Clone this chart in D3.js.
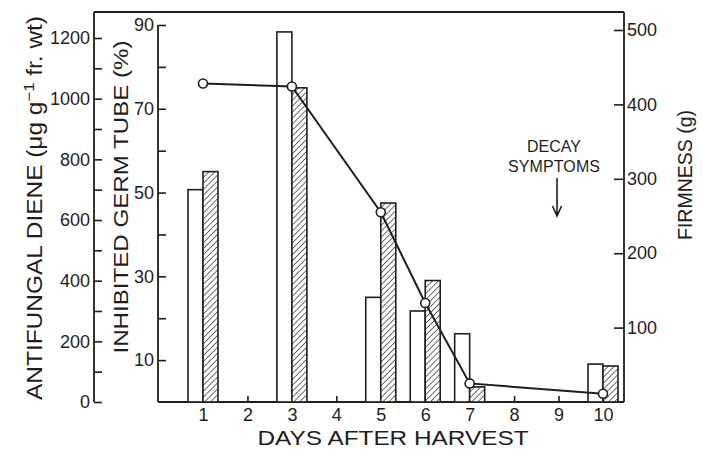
<!DOCTYPE html>
<html>
<head>
<meta charset="utf-8">
<script src="https://cdnjs.cloudflare.com/ajax/libs/d3/7.8.5/d3.min.js"></script>
<style>
    body { margin: 0; background: #fff; }
    svg text { font-family: "Liberation Sans", Arial, sans-serif; fill: #1e1e1e; }
    .axis path.domain { display: none; }
    .axis line { stroke: #1e1e1e; stroke-width: 1.6; }
    .axis text { font-size: 18px; }
</style>
</head>
<body>
<svg id="chart" width="702" height="450"></svg>
<script>
var d3 = d3 || {};

// days on the x axis, and the days that have measurements
var days = ["1", "2", "3", "4", "5", "6", "7", "8", "9", "10"];
var barDays = ["1", "3", "5", "6", "7", "10"];

// antifungal diene (ug/g fr. wt) - open bars
var dieneValues = [700, 1220, 345, 300, 225, 125];
// inhibited germ tube (%) - hatched bars
var germTubeValues = [55, 75, 47.5, 29, 3.6, 8.6];
// firmness (g) - line with circles
var firmnessValues = [428, 424, 255, 133, 25, 11];

var dieneTicks = [0, 100, 200, 300, 400, 500, 600, 700, 800, 900, 1000, 1100, 1200];
var germTicks = [10, 20, 30, 40, 50, 60, 70, 80, 90];
var firmnessTicks = [100, 200, 300, 400, 500];

(function(){
    "use strict";

    var ink = "#1e1e1e";
    var svg = d3.select("#chart");

    var outerX = 94, innerX = 158, rightX = 624;
    var topY = 12, baseY = 402;
    var barWidth = 15;

    var xScale = d3.scalePoint().domain(days).range([203, 603]);
    var dieneScale = d3.scaleLinear().domain([0, 1200]).range([baseY, 38]);
    var germScale = d3.scaleLinear().domain([0, 90]).range([baseY, 25]);
    var firmScale = d3.scaleLinear().domain([0, 500]).range([baseY, 30]);

    /*
        hatch pattern for the germ tube bars
    */
    function addPattern(){
        var pattern = svg.append("defs").append("pattern")
            .attr("id", "hatch")
            .attr("patternUnits", "userSpaceOnUse")
            .attr("width", 4.2)
            .attr("height", 4.2)
            .attr("patternTransform", "rotate(45)");
        pattern.append("rect").attr("width", 4.2).attr("height", 4.2).attr("fill", "#fff");
        pattern.append("line")
            .attr("x1", 0).attr("y1", 0).attr("x2", 0).attr("y2", 4.2)
            .attr("stroke", ink).attr("stroke-width", 1.3);
    }

    /*
        frame lines and the three y axes
    */
    function drawAxes(){
        var frame = [
            [outerX, topY, outerX, baseY],
            [outerX, topY, rightX, topY],
            [rightX, topY, rightX, baseY],
            [innerX, 25, innerX, baseY],
            [innerX, baseY, rightX, baseY]
        ];
        svg.selectAll("line.frame").data(frame).enter().append("line")
            .attr("class", "frame")
            .attr("x1", function(d){ return d[0]; })
            .attr("y1", function(d){ return d[1]; })
            .attr("x2", function(d){ return d[2]; })
            .attr("y2", function(d){ return d[3]; })
            .attr("stroke", ink).attr("stroke-width", 1.8);

        svg.append("g").attr("class", "axis")
            .attr("transform", "translate(" + outerX + ",0)")
            .call(d3.axisLeft(dieneScale)
                .tickValues(dieneTicks)
                .tickSizeInner(-8).tickSizeOuter(0).tickPadding(4)
                .tickFormat(function(d){ return d % 200 === 0 ? d : ""; }));

        svg.append("g").attr("class", "axis")
            .attr("transform", "translate(" + innerX + ",0)")
            .call(d3.axisLeft(germScale)
                .tickValues(germTicks)
                .tickSizeInner(-8).tickSizeOuter(0).tickPadding(4)
                .tickFormat(function(d){ return d % 20 === 10 ? d : ""; }));

        svg.append("g").attr("class", "axis")
            .attr("transform", "translate(" + rightX + ",0)")
            .call(d3.axisRight(firmScale)
                .tickValues(firmnessTicks)
                .tickSizeInner(-10).tickSizeOuter(0).tickPadding(3));

        svg.append("g").attr("class", "axis")
            .attr("transform", "translate(0," + baseY + ")")
            .call(d3.axisBottom(xScale)
                .tickSizeInner(-6).tickSizeOuter(0).tickPadding(6));
    }

    /*
        open bars (diene) left of the day, hatched bars (germ tube) right of it
    */
    function drawBars(){
        svg.selectAll("rect.diene").data(barDays).enter().append("rect")
            .attr("class", "diene")
            .attr("x", function(d){ return xScale(d) - barWidth; })
            .attr("y", function(d, i){ return dieneScale(dieneValues[i]); })
            .attr("width", barWidth)
            .attr("height", function(d, i){ return baseY - dieneScale(dieneValues[i]); })
            .attr("fill", "#fff").attr("stroke", ink).attr("stroke-width", 1.6);

        svg.selectAll("rect.germ").data(barDays).enter().append("rect")
            .attr("class", "germ")
            .attr("x", function(d){ return xScale(d); })
            .attr("y", function(d, i){ return germScale(germTubeValues[i]); })
            .attr("width", barWidth)
            .attr("height", function(d, i){ return baseY - germScale(germTubeValues[i]); })
            .attr("fill", "url(#hatch)").attr("stroke", ink).attr("stroke-width", 1.6);
    }

    function drawFirmness(){
        var points = barDays.map(function(d, i){ return {day: d, value: firmnessValues[i]}; });
        var line = d3.line()
            .x(function(d){ return xScale(d.day); })
            .y(function(d){ return firmScale(d.value); });

        svg.append("path").datum(points)
            .attr("d", line)
            .attr("fill", "none").attr("stroke", ink).attr("stroke-width", 2);

        svg.selectAll("circle.firm").data(points).enter().append("circle")
            .attr("class", "firm")
            .attr("cx", function(d){ return xScale(d.day); })
            .attr("cy", function(d){ return firmScale(d.value); })
            .attr("r", 4.5)
            .attr("fill", "#fff").attr("stroke", ink).attr("stroke-width", 1.6);
    }

    function drawLabels(){
        var outer = svg.append("text")
            .attr("transform", "translate(42,208) rotate(-90)")
            .attr("text-anchor", "middle")
            .attr("font-size", 22)
            .attr("textLength", 384).attr("lengthAdjust", "spacingAndGlyphs");
        outer.append("tspan").text("ANTIFUNGAL DIENE (\u03bcg g");
        outer.append("tspan").attr("dy", -8).attr("font-size", 15).text("\u22121");
        outer.append("tspan").attr("dy", 8).text(" fr. wt)");

        svg.append("text")
            .attr("transform", "translate(128,197) rotate(-90)")
            .attr("text-anchor", "middle")
            .attr("font-size", 21)
            .attr("textLength", 313).attr("lengthAdjust", "spacingAndGlyphs")
            .text("INHIBITED GERM TUBE (%)");

        svg.append("text")
            .attr("transform", "translate(692,175) rotate(-90)")
            .attr("text-anchor", "middle")
            .attr("font-size", 20)
            .attr("textLength", 130).attr("lengthAdjust", "spacingAndGlyphs")
            .text("FIRMNESS (g)");

        svg.append("text")
            .attr("x", 393).attr("y", 445)
            .attr("text-anchor", "middle")
            .attr("font-size", 21)
            .attr("textLength", 271).attr("lengthAdjust", "spacingAndGlyphs")
            .text("DAYS AFTER HARVEST");

        svg.append("text").attr("x", 554).attr("y", 152)
            .attr("text-anchor", "middle").attr("font-size", 16)
            .text("DECAY");
        svg.append("text").attr("x", 554).attr("y", 172)
            .attr("text-anchor", "middle").attr("font-size", 16)
            .attr("textLength", 92)
            .text("SYMPTOMS");

        // decay arrow
        svg.append("path")
            .attr("d", "M557,178V216M552.5,206L557,216L561.5,206")
            .attr("fill", "none").attr("stroke", ink).attr("stroke-width", 1.6);
    }

    addPattern();
    drawAxes();
    drawBars();
    drawFirmness();
    drawLabels();
}());
</script>
</body>
</html>
